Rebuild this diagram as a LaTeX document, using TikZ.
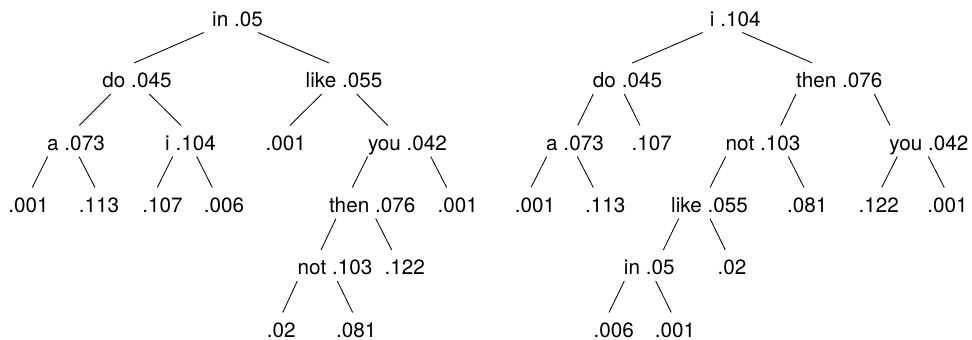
\documentclass[tikz,border=0pt]{standalone}
\usepackage{fontspec}
\setmainfont{TeX Gyre Heros}
\newcommand\treeedge[4]{\draw[edgeline] ([shift={(#2,6.5)}]#1.base) -- ([shift={(#4,-24.5)}]#3.base);}
\begin{document}
\begin{tikzpicture}[x=1pt,y=-1pt,
  lbl/.style={anchor=base,inner sep=0pt,font=\fontsize{20.7}{24}\selectfont,text=black},
  edgeline/.style={draw=black,line width=0.85pt}]
\useasboundingbox (0,0) rectangle (972,340);
% ---------- left tree ----------
\node[lbl] (in1)   at (237.5,26)   {in .05};
\node[lbl] (do1)   at (137,87.5)   {do .045};
\node[lbl] (like1) at (344,87.5)   {like .055};
\node[lbl] (a1)    at (76,150)     {a .073};
\node[lbl] (i1)    at (190.5,150)  {i .104};
\node[lbl] (z1)    at (285.8,150)  {.001};
\node[lbl] (you1)  at (407.5,150)  {you .042};
\node[lbl] (z2)    at (28.5,212)   {.001};
\node[lbl] (z3)    at (99,212)     {.113};
\node[lbl] (z4)    at (162.5,212)  {.107};
\node[lbl] (z5)    at (224,212)    {.006};
\node[lbl] (then1) at (372.2,212)  {then .076};
\node[lbl] (z6)    at (457.7,212)  {.001};
\node[lbl] (not1)  at (335,274.5)  {not .103};
\node[lbl] (z7)    at (404.7,274.5){.122};
\node[lbl] (z8)    at (281.2,337)  {.02};
\node[lbl] (z9)    at (356.2,337)  {.081};
\treeedge{in1}{-33.5}{do1}{-3}
\treeedge{in1}{20.5}{like1}{-15}
\treeedge{do1}{-26.3}{a1}{3.3}
\treeedge{do1}{12.3}{i1}{-9.5}
\treeedge{like1}{-22.3}{z1}{4.2}
\treeedge{like1}{12.7}{you1}{-19.8}
\treeedge{a1}{-28.3}{z2}{3.8}
\treeedge{a1}{3}{z3}{-4}
\treeedge{i1}{-17.8}{z4}{-5.2}
\treeedge{i1}{6.2}{z5}{-11.7}
\treeedge{you1}{-39.8}{then1}{-19.9}
\treeedge{you1}{23.2}{z6}{-11}
\treeedge{then1}{-36.2}{not1}{-14}
\treeedge{then1}{3.5}{z7}{-13}
\treeedge{not1}{-37.7}{z8}{1.5}
\treeedge{not1}{2.3}{z9}{-3.5}
% ---------- right tree ----------
\node[lbl] (I1)  at (735.3,26)   {i .104};
\node[lbl] (D1)  at (627.5,87.5) {do .045};
\node[lbl] (T1)  at (839.2,87.5) {then .076};
\node[lbl] (A1)  at (575,150)    {a .073};
\node[lbl] (Z1)  at (651.7,150)  {.107};
\node[lbl] (N1)  at (763,150)    {not .103};
\node[lbl] (Y1)  at (928.8,150)  {you .042};
\node[lbl] (Z2)  at (535,212)    {.001};
\node[lbl] (Z3)  at (605.2,212)  {.113};
\node[lbl] (L1)  at (709.5,212)  {like .055};
\node[lbl] (Z4)  at (807.2,212)  {.081};
\node[lbl] (Z5)  at (878.8,212)  {.122};
\node[lbl] (Z6)  at (947.5,212)  {.001};
\node[lbl] (In1) at (649.3,274.5){in .05};
\node[lbl] (Z7)  at (732,274.5)  {.02};
\node[lbl] (Z8)  at (613.8,337)  {.006};
\node[lbl] (Z9)  at (675,337)    {.001};
\treeedge{I1}{-32.6}{D1}{4.8}
\treeedge{I1}{7}{T1}{-26.9}
\treeedge{D1}{-34.2}{A1}{2.7}
\treeedge{D1}{-3.2}{Z1}{-11.7}
\treeedge{T1}{-43.2}{N1}{17.7}
\treeedge{T1}{35.1}{Y1}{-38.8}
\treeedge{A1}{-28.3}{Z2}{-4}
\treeedge{A1}{2.3}{Z3}{-11.9}
\treeedge{N1}{-37.3}{L1}{0.5}
\treeedge{N1}{25.3}{Z4}{-3.2}
\treeedge{Y1}{-31.5}{Z5}{2.9}
\treeedge{Y1}{-0.5}{Z6}{-3.2}
\treeedge{L1}{-30.8}{In1}{14}
\treeedge{L1}{0.5}{Z7}{-6.7}
\treeedge{In1}{-25}{Z8}{-4.8}
\treeedge{In1}{6.4}{Z9}{-3.7}
\end{tikzpicture}
\end{document}
